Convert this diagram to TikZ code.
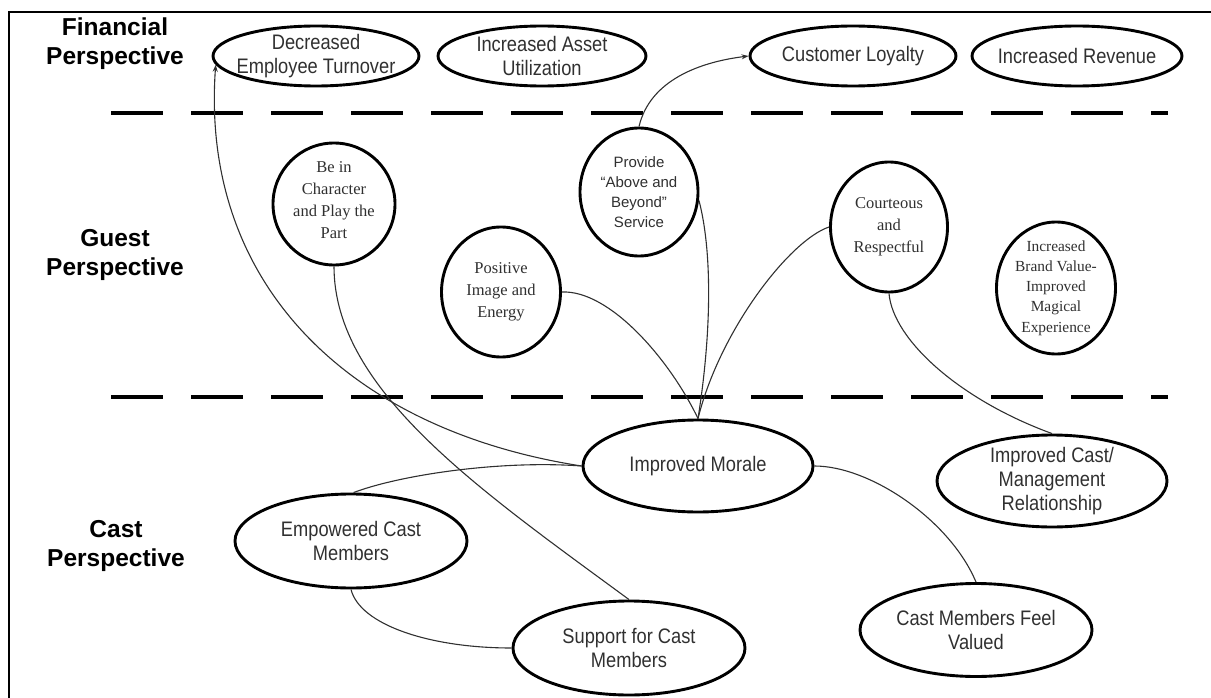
\documentclass[tikz,border=0pt]{standalone}
\usepackage{fontspec}
\setmainfont{Liberation Serif}
\setsansfont{Liberation Sans}
\newfontfamily\narrowsans[FakeStretch=0.87]{Liberation Sans}
\usetikzlibrary{shapes.geometric,arrows.meta}
\definecolor{txt}{HTML}{303030}
\begin{document}
\begin{tikzpicture}[x=1pt,y=-1pt,
  ell/.style={draw=black, line width=2.9pt, ellipse, inner sep=0pt},
  etext/.style={align=center, text=txt, font=\narrowsans\fontsize{21}{24}\selectfont, inner sep=0pt},
  ctext/.style={align=center, text=txt, font=\fontsize{16.5}{22}\selectfont, inner sep=0pt},
  stext/.style={align=center, text=txt, font=\sffamily\fontsize{15}{20}\selectfont, inner sep=0pt},
  btext/.style={align=center, text=txt, font=\fontsize{15.4}{20.2}\selectfont, inner sep=0pt},
  head/.style={align=center, font=\sffamily\bfseries\fontsize{24.5}{29}\selectfont, inner sep=0pt},
  link/.style={line width=1.1pt, draw=txt},
  arr/.style={link, -{Stealth[length=7pt,width=5pt]}},
  divider/.style={line width=3.5pt, dash pattern=on 52pt off 28pt},
]
\useasboundingbox (0,0) rectangle (1211,698);
% frame
\coordinate (fl) at (9,698);
\coordinate (fc) at (9,12);
\coordinate (fr) at (1211,12);
\draw[line width=1.5pt] (fl) -- (fc) -- (fr);
% dividers
\coordinate (d1a) at (111,113);
\coordinate (d1b) at (1168,113);
\coordinate (d2a) at (111,397);
\coordinate (d2b) at (1168,397);
\draw[divider] (d1a) -- (d1b);
\draw[divider] (d2a) -- (d2b);
% headings
\node[head] (hfin) at (115,44) {Financial\\Perspective};
\node[head] (hgst) at (115,255) {Guest\\Perspective};
\node[head] (hcst) at (116,546) {Cast\\Perspective};
% financial row
\node[ell, minimum width=206pt, minimum height=60pt] (det) at (316,56) {};
\node[etext] (detT) at (det) {Decreased\\Employee Turnover};
\node[ell, minimum width=208pt, minimum height=60pt] (iau) at (542,56) {};
\node[etext] (iauT) at (iau) {Increased Asset\\Utilization};
\node[ell, minimum width=206pt, minimum height=60pt] (cl) at (853,56) {};
\node[etext] (clT) at (cl) {Customer Loyalty};
\node[ell, minimum width=210pt, minimum height=60pt] (ir) at (1077,56) {};
\node[etext] (irT) at (ir) {Increased Revenue};
% guest row
\node[ell, minimum width=122pt, minimum height=122pt] (bic) at (334,204) {};
\node[ctext] (bicT) at (334,200) {Be in\\Character\\and Play the\\Part};
\node[ell, minimum width=118pt, minimum height=128pt] (pab) at (639,192) {};
\node[stext] (pabT) at (pab) {Provide\\``Above and\\Beyond''\\Service};
\node[ell, minimum width=119pt, minimum height=130pt] (pie) at (501,292) {};
\node[ctext] (pieT) at (pie) {Positive\\Image and\\Energy};
\node[ell, minimum width=117pt, minimum height=130pt] (cr) at (889,227) {};
\node[ctext] (crT) at (cr) {Courteous\\and\\Respectful};
\node[ell, minimum width=119pt, minimum height=132pt] (ibv) at (1056,288) {};
\node[btext] (ibvT) at (ibv) {Increased\\Brand Value-\\Improved\\Magical\\Experience};
% cast row
\node[ell, minimum width=230pt, minimum height=92pt] (mor) at (698,466) {};
\node[etext] (morT) at (mor) {Improved Morale};
\node[ell, minimum width=230pt, minimum height=92pt] (mcr) at (1052,481) {};
\node[etext] (mcrT) at (mcr) {Improved Cast/\\Management\\Relationship};
\node[ell, minimum width=232pt, minimum height=94pt] (emp) at (351,541) {};
\node[etext] (empT) at (emp) {Empowered Cast\\Members};
\node[ell, minimum width=232pt, minimum height=94pt] (sfc) at (629,648) {};
\node[etext] (sfcT) at (sfc) {Support for Cast\\Members};
\node[ell, minimum width=232pt, minimum height=93pt] (cmv) at (976,630) {};
\node[etext] (cmvT) at (cmv) {Cast Members Feel\\Valued};
% connectors
\draw[arr] (mor.west) .. controls (350,430) and (200,285) .. (det.185);
\draw[arr] (pab.north) .. controls (650,80) and (700,62) .. (cl.west);
\draw[link] (mor.north) .. controls (712,330) and (712,250) .. (pab.-8);
\draw[link] (pie.east) .. controls (610,290) and (670,360) .. (mor.north);
\draw[link] (cr.west) .. controls (790,240) and (720,330) .. (mor.north);
\draw[link] (cr.south) .. controls (893,340) and (960,400) .. (mcr.north);
\draw[link] (mor.east) .. controls (870,466) and (950,520) .. (cmv.north);
\draw[link] (bic.south) .. controls (334,390) and (480,490) .. (sfc.north);
\draw[link] (emp.87) .. controls (400,475) and (500,460) .. (mor.west);
\draw[link] (emp.south) .. controls (360,625) and (430,648) .. (sfc.west);
\end{tikzpicture}
\end{document}
